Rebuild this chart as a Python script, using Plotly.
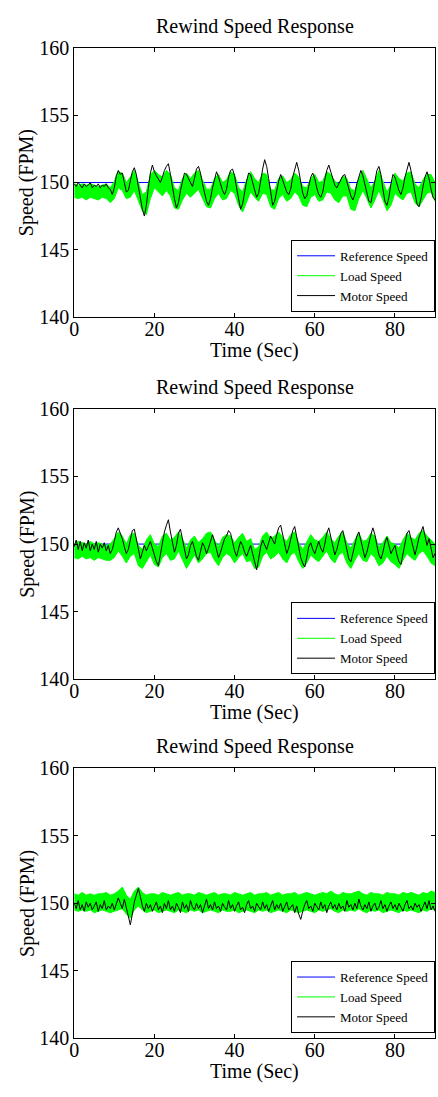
import numpy as np
import plotly.graph_objects as go

FONT = "Liberation Serif"
W, H = 438, 1097

reference_speed = 150.0

# Motor speed, sampled every 0.5 s from 0 to 90 s
motor_1 = [
    149.9, 149.7, 150.0, 149.8, 149.6, 149.9, 149.7, 149.8, 150.0, 149.6,
    149.8, 149.7, 149.9, 149.6, 149.8, 149.7, 149.9, 149.6, 149.5, 149.1,
    149.6, 150.5, 150.9, 150.6, 150.7, 150.0, 149.3, 149.4, 150.2, 150.8,
    151.1, 150.6, 149.7, 148.8, 148.0, 147.5, 148.3, 149.6, 150.7, 151.3,
    150.8, 150.5, 150.2, 150.0, 150.4, 150.9, 151.2, 151.4, 150.6, 149.6,
    148.8, 148.1, 148.5, 149.4, 150.2, 150.7, 150.6, 150.3, 149.9, 149.7,
    150.3, 151.0, 151.2, 150.7, 149.9, 149.1, 148.6, 148.3, 148.8, 149.6,
    150.3, 150.8, 150.4, 149.9, 149.4, 149.1, 149.5, 150.4, 150.9, 151.0,
    150.5, 149.6, 148.8, 148.0, 148.4, 149.3, 150.1, 150.7, 150.6, 150.0,
    149.4, 148.9, 149.2, 150.2, 151.0, 151.7, 151.2, 150.3, 149.2, 148.3,
    148.6, 149.4, 150.1, 150.6, 150.2, 149.7, 149.3, 149.1, 149.5, 150.4,
    151.0, 151.5, 150.9, 149.9, 149.2, 148.8, 149.0, 149.7, 150.4, 150.7,
    150.3, 149.6, 149.1, 148.9, 149.3, 150.2, 150.9, 151.3, 150.8, 150.2,
    149.8, 149.6, 149.9, 150.3, 150.5, 150.6, 150.1, 149.5, 149.0, 148.7,
    149.1, 149.9, 150.5, 150.9, 150.5, 149.8, 149.1, 148.6, 148.5, 149.3,
    150.2, 150.9, 151.2, 150.6, 149.5, 148.6, 148.3, 148.9, 149.9, 150.6,
    150.4, 149.9, 149.4, 149.1, 149.6, 150.4, 151.0, 151.5, 150.9, 150.0,
    149.1, 148.4, 148.2, 148.8, 149.7, 150.4, 150.8, 150.3, 149.5, 148.9,
    148.7,
]
motor_2 = [
    149.8, 150.3, 149.6, 150.2, 149.5, 150.1, 149.7, 150.3, 149.5, 150.0,
    149.6, 150.2, 149.4, 150.0, 149.7, 150.1, 149.5, 149.9, 149.3, 149.6,
    150.2, 150.9, 151.2, 150.8, 150.4, 149.8, 149.3, 149.6, 150.4, 151.0,
    151.1, 150.3, 149.4, 148.9, 149.4, 149.9, 149.5, 149.8, 150.2, 149.7,
    149.2, 148.7, 148.4, 149.3, 150.2, 150.9, 151.4, 151.8, 150.9, 150.1,
    149.4, 149.9, 150.8, 151.1, 150.4, 149.6, 148.9, 149.2, 149.9, 150.2,
    149.7, 149.1, 148.8, 149.4, 150.1, 149.8, 149.3, 149.7, 150.3, 150.7,
    150.2, 149.5, 149.0, 149.4, 150.0, 150.4, 150.6, 151.0, 150.8, 150.1,
    149.5, 149.1, 149.6, 150.2, 149.9, 149.4, 149.1, 149.5, 149.9, 149.3,
    148.6, 148.1, 148.9, 149.8, 150.3, 150.0, 149.6, 150.1, 150.6, 150.3,
    150.0, 150.7, 151.2, 151.4, 150.6, 149.8, 149.3, 149.7, 150.5, 151.0,
    151.3, 150.6, 149.7, 149.0, 148.6, 148.3, 149.0, 149.8, 150.1, 149.6,
    149.3, 149.8, 150.2, 149.7, 149.4, 150.0, 150.8, 151.2, 150.5, 149.7,
    149.2, 149.6, 150.3, 150.8, 151.0, 150.4, 149.6, 148.9, 148.7, 149.3,
    150.0, 150.6, 150.9, 150.3, 149.5, 149.0, 149.4, 150.1, 150.7, 151.2,
    150.7, 149.9, 149.2, 148.9, 149.4, 150.1, 150.5, 149.9, 149.3, 149.6,
    149.9, 149.2, 148.7, 148.5, 149.3, 150.2, 150.8, 151.0, 150.4, 149.6,
    149.2, 149.8, 150.5, 150.9, 151.3, 150.6, 149.9, 150.4, 149.6, 149.0,
    149.3,
]
motor_3 = [
    150.0, 149.6, 150.2, 149.5, 149.9, 149.4, 150.1, 149.7, 150.0, 149.5,
    149.8, 150.1, 149.4, 149.9, 149.6, 150.2, 149.5, 149.8, 149.6, 150.0,
    149.5, 149.9, 150.4, 150.0, 149.6, 150.3, 149.7, 149.0, 148.4, 149.2,
    150.1, 150.6, 151.1, 150.5, 149.8, 149.4, 150.0, 149.6, 149.9, 149.4,
    149.8, 150.1, 149.5, 149.8, 149.3, 150.0, 149.6, 150.2, 149.5, 149.8,
    149.4, 150.0, 149.7, 149.3, 150.1, 149.6, 149.9, 149.4, 150.2, 149.7,
    149.5, 150.0, 149.6, 149.9, 149.3, 149.8, 150.3, 149.6, 149.9, 149.5,
    150.1, 149.6, 149.8, 149.4, 150.0, 149.7, 149.5, 150.2, 149.6, 149.9,
    149.4, 149.8, 150.1, 149.5, 149.7, 149.3, 149.9, 150.2, 149.6, 149.8,
    149.4, 150.0, 149.7, 149.5, 150.1, 149.6, 149.9, 149.4, 149.8, 150.2,
    149.5, 149.9, 149.6, 150.0, 149.4, 149.8, 150.1, 149.5, 149.7, 149.9,
    149.3, 149.8, 149.2, 148.8, 149.4, 149.9, 150.2, 149.6, 149.8, 149.4,
    150.0, 149.7, 149.5, 150.1, 149.6, 149.9, 149.3, 149.8, 150.1, 149.6,
    149.9, 149.5, 150.0, 149.6, 149.8, 149.4, 150.2, 149.7, 149.9, 149.5,
    150.0, 149.6, 150.3, 149.8, 149.5, 149.9, 149.6, 150.1, 149.4, 149.8,
    150.0, 149.5, 149.7, 150.2, 149.6, 149.9, 149.4, 149.8, 150.1, 149.6,
    149.9, 149.5, 150.0, 149.7, 149.4, 149.9, 150.2, 149.6, 149.8, 149.5,
    150.0, 149.7, 149.9, 149.4, 149.8, 150.1, 149.6, 150.2, 149.5, 149.8,
    149.4,
]

# Load speed band (lower / upper envelope), sampled every 1 s from 0 to 90 s
load_lo_1 = [
    148.9, 148.8, 148.9, 148.7, 148.9, 148.8, 148.7, 148.9, 148.8, 148.5,
    148.8, 149.6, 149.4, 148.8, 148.9, 149.4, 148.6, 147.9, 147.6, 148.8,
    149.6, 149.3, 149.0, 149.4, 149.0, 148.1, 148.0, 148.7, 149.2, 148.9,
    149.2, 149.5, 148.8, 148.2, 148.1, 148.8, 149.2, 148.7, 148.8, 149.4,
    149.2, 148.3, 147.8, 148.5, 149.3, 148.9, 148.6, 149.2, 149.1, 148.2,
    148.0, 148.8, 149.1, 148.6, 148.8, 149.3, 149.0, 148.3, 148.2, 148.9,
    149.1, 148.6, 148.7, 149.3, 149.2, 148.7, 148.5, 149.0, 149.0, 148.0,
    147.9, 148.8, 149.4, 148.8, 148.1, 148.7, 149.4, 148.7, 147.9, 148.3,
    149.2, 148.9, 148.7, 149.2, 149.3, 148.5, 148.2, 148.7, 149.2, 149.3,
    148.6,
]
load_hi_1 = [
    149.9, 149.8, 149.9, 149.8, 149.9, 149.8, 149.7, 149.8, 149.9, 149.6,
    150.1, 150.8, 150.7, 150.0, 150.4, 150.9, 150.0, 149.1, 149.3, 150.6,
    150.9, 150.6, 150.4, 150.9, 150.6, 149.6, 149.4, 150.3, 150.7, 150.3,
    150.7, 150.9, 150.2, 149.5, 149.5, 150.3, 150.6, 150.0, 150.2, 150.8,
    150.6, 149.6, 149.3, 150.2, 150.8, 150.3, 150.0, 150.7, 150.6, 149.5,
    149.4, 150.3, 150.5, 150.0, 150.2, 150.7, 150.4, 149.7, 149.6, 150.3,
    150.6, 150.0, 150.1, 150.8, 150.6, 150.1, 149.9, 150.5, 150.3, 149.5,
    149.4, 150.3, 150.9, 150.2, 149.6, 150.1, 150.9, 150.1, 149.3, 149.8,
    150.7, 150.3, 150.1, 150.7, 150.8, 149.9, 149.6, 150.2, 150.6, 150.6,
    150.0,
]
load_lo_2 = [
    149.0, 148.9, 149.1, 148.9, 149.0, 148.8, 149.0, 148.9, 148.8, 148.8,
    149.0, 149.5, 149.1, 148.6, 149.1, 149.3, 148.4, 148.2, 148.7, 149.2,
    148.5, 148.3, 149.0, 149.3, 148.8, 148.9, 149.5, 148.9, 148.2, 148.7,
    149.2, 148.6, 148.9, 149.3, 149.4, 148.8, 148.4, 149.0, 149.3, 149.1,
    148.6, 149.0, 149.3, 148.7, 148.8, 148.2, 148.3, 149.1, 149.4, 148.9,
    149.1, 149.4, 148.9, 148.6, 149.2, 149.4, 148.7, 148.2, 148.6, 149.2,
    148.9, 148.7, 149.1, 149.5, 148.9, 148.6, 149.2, 149.4, 148.6, 148.2,
    148.8, 149.3, 148.8, 148.7, 149.3, 149.0, 148.4, 148.6, 149.1, 148.7,
    148.5, 148.2, 148.8, 149.3, 149.0, 148.8, 149.3, 149.5, 149.1, 148.6,
    148.4,
]
load_hi_2 = [
    150.0, 150.2, 150.1, 150.0, 150.2, 150.0, 150.1, 150.0, 149.9, 150.0,
    150.4, 150.9, 150.6, 150.0, 150.7, 150.8, 149.9, 149.6, 150.3, 150.7,
    150.0, 149.8, 150.6, 150.8, 150.3, 150.5, 150.9, 150.4, 149.7, 150.3,
    150.6, 150.1, 150.4, 150.8, 150.9, 150.3, 149.8, 150.5, 150.7, 150.6,
    150.1, 150.5, 150.8, 150.2, 150.4, 149.6, 149.8, 150.6, 150.9, 150.4,
    150.6, 150.9, 150.5, 150.2, 150.7, 150.9, 150.1, 149.6, 150.1, 150.7,
    150.3, 150.2, 150.5, 150.9, 150.4, 150.1, 150.6, 150.9, 150.1, 149.7,
    150.3, 150.8, 150.2, 150.3, 150.8, 150.6, 149.8, 150.1, 150.6, 150.1,
    150.0, 149.7, 150.3, 150.8, 150.5, 150.3, 150.8, 151.0, 150.6, 150.3,
    150.0,
]
load_lo_3 = [
    149.5, 149.4, 149.5, 149.4, 149.5, 149.3, 149.4, 149.5, 149.4, 149.3,
    149.4, 149.5, 149.6, 149.2, 148.9, 149.5, 149.8, 149.5, 149.3, 149.4,
    149.5, 149.3, 149.4, 149.5, 149.4, 149.3, 149.5, 149.4, 149.3, 149.5,
    149.4, 149.5, 149.3, 149.4, 149.5, 149.4, 149.3, 149.5, 149.4, 149.4,
    149.5, 149.3, 149.4, 149.5, 149.4, 149.3, 149.5, 149.4, 149.5, 149.3,
    149.4, 149.5, 149.4, 149.3, 149.5, 149.4, 149.3, 149.4, 149.5, 149.4,
    149.3, 149.5, 149.4, 149.5, 149.6, 149.4, 149.3, 149.5, 149.4, 149.5,
    149.4, 149.6, 149.4, 149.3, 149.5, 149.4, 149.5, 149.3, 149.4, 149.5,
    149.4, 149.3, 149.5, 149.4, 149.5, 149.4, 149.3, 149.5, 149.4, 149.6,
    149.5,
]
load_hi_3 = [
    150.7, 150.6, 150.8, 150.6, 150.7, 150.6, 150.7, 150.7, 150.8, 150.6,
    150.7, 150.9, 151.2, 150.6, 150.3, 150.9, 151.2, 150.8, 150.6, 150.7,
    150.7, 150.6, 150.8, 150.7, 150.6, 150.7, 150.8, 150.6, 150.7, 150.7,
    150.6, 150.8, 150.7, 150.6, 150.7, 150.8, 150.6, 150.7, 150.7, 150.6,
    150.8, 150.7, 150.6, 150.7, 150.8, 150.6, 150.7, 150.7, 150.8, 150.6,
    150.7, 150.8, 150.6, 150.7, 150.7, 150.8, 150.6, 150.7, 150.8, 150.7,
    150.6, 150.7, 150.8, 150.7, 150.9, 150.7, 150.6, 150.8, 150.7, 150.7,
    150.8, 150.9, 150.7, 150.6, 150.8, 150.7, 150.7, 150.6, 150.8, 150.7,
    150.7, 150.6, 150.8, 150.7, 150.8, 150.7, 150.6, 150.8, 150.7, 150.9,
    150.8,
]

x_ticks = [0, 20, 40, 60, 80]
y_ticks = [140, 145, 150, 155, 160]
title_text = "Rewind Speed Response"
x_label = "Time (Sec)"
y_label = "Speed (FPM)"
legend_names = ["Reference Speed", "Load Speed", "Motor Speed"]

panels = [
    (motor_1, load_lo_1, load_hi_1),
    (motor_2, load_lo_2, load_hi_2),
    (motor_3, load_lo_3, load_hi_3),
]

# pixel geometry of the three axes boxes (top, bottom)
left_px, right_px = 70, 435
boxes = [(38, 312), (406, 682), (773, 1048)]


def py(v):
    return 1 - v / H


def px(v):
    return v / W


fig = go.Figure()
annotations = []
layout = dict(
    width=W, height=H,
    margin=dict(l=0, r=0, t=0, b=0),
    paper_bgcolor="white", plot_bgcolor="white",
    font=dict(family=FONT, size=20, color="black"),
)

for i, (motor, lo, hi) in enumerate(panels):
    k = "" if i == 0 else str(i + 1)
    xa, ya = "x" + k, "y" + k
    leg = "legend" + k
    t_m = np.linspace(0, 90, len(motor))
    t_l = np.linspace(0, 90, len(lo))

    fig.add_trace(go.Scatter(
        x=[0, 90], y=[reference_speed, reference_speed], mode="lines",
        line=dict(color="#0000ff", width=1), name=legend_names[0],
        xaxis=xa, yaxis=ya, legend=leg))
    fig.add_trace(go.Scatter(
        x=t_l, y=hi, mode="lines", line=dict(color="#00ff00", width=1),
        name=legend_names[1], xaxis=xa, yaxis=ya, legend=leg))
    fig.add_trace(go.Scatter(
        x=t_l, y=lo, mode="lines", line=dict(color="#00ff00", width=1),
        fill="tonexty", fillcolor="#00ff00", showlegend=False,
        xaxis=xa, yaxis=ya, legend=leg))
    fig.add_trace(go.Scatter(
        x=t_m, y=motor, mode="lines", line=dict(color="black", width=1),
        name=legend_names[2], xaxis=xa, yaxis=ya, legend=leg))

    top, bot = boxes[i]
    axis_common = dict(
        showline=True, linecolor="black", linewidth=1, mirror="ticks",
        ticks="inside", ticklen=4, tickwidth=1, tickcolor="black",
        showgrid=False, zeroline=False,
        tickfont=dict(family=FONT, size=20, color="black"),
    )
    layout["xaxis" + k] = dict(
        axis_common, domain=[px(left_px), px(right_px)], range=[0, 90],
        tickvals=x_ticks, anchor=ya, ticklabelstandoff=-6)
    layout["yaxis" + k] = dict(
        axis_common, domain=[py(bot), py(top)], range=[140, 160],
        tickvals=y_ticks, anchor=xa)
    layout[leg] = dict(
        x=px(right_px), xanchor="right", y=py(bot - 5), yanchor="bottom",
        bgcolor="white", bordercolor="black", borderwidth=1,
        font=dict(family=FONT, size=13, color="black"),
        traceorder="normal", tracegroupgap=0, itemwidth=38)

    mid_x = (left_px + right_px) / 2
    annotations.append(dict(
        text=title_text, x=px(mid_x), y=py(top - 22), xref="paper", yref="paper",
        xanchor="center", yanchor="middle", showarrow=False,
        font=dict(family=FONT, size=20, color="black")))
    annotations.append(dict(
        text=x_label, x=px(mid_x), y=py(bot + 34), xref="paper", yref="paper",
        xanchor="center", yanchor="middle", showarrow=False,
        font=dict(family=FONT, size=20, color="black")))
    annotations.append(dict(
        text=y_label, x=px(22), y=py((top + bot) / 2), xref="paper", yref="paper",
        xanchor="center", yanchor="middle", textangle=-90, showarrow=False,
        font=dict(family=FONT, size=20, color="black")))

layout["annotations"] = annotations
fig.update_layout(**layout)
fig.write_html("out.html")
